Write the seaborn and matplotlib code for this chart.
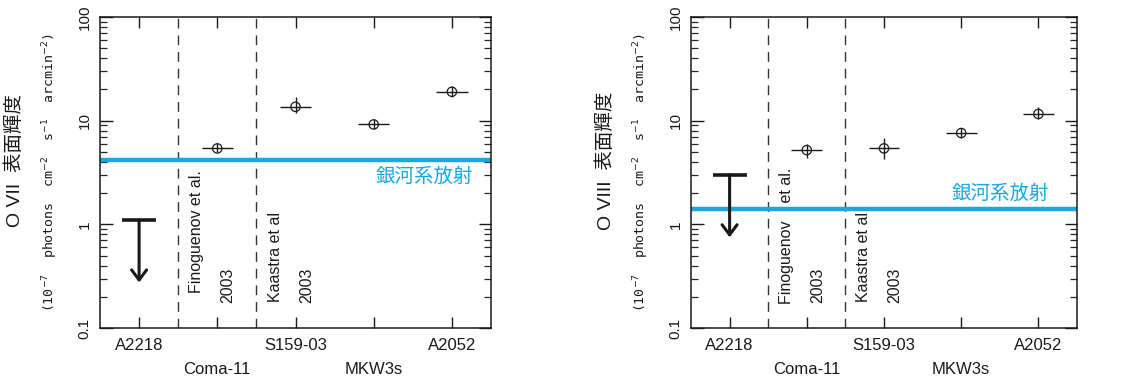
"""Two-panel O VII / O VIII surface brightness chart for five galaxy clusters."""

import matplotlib

matplotlib.use("Agg")
import matplotlib.pyplot as plt
import seaborn as sns
from matplotlib.ticker import FixedLocator, FuncFormatter, LogLocator

CLUSTERS = ["A2218", "Coma-11", "S159-03", "MKW3s", "A2052"]
TICK_LABELS = ["A2218", "\nComa-11", "S159-03", "\nMKW3s", "A2052"]
DETECTED = ["Coma-11", "S159-03", "MKW3s", "A2052"]

# O VII surface brightness (1e-7 photons cm^-2 s^-1 arcmin^-2)
O7_VALUE = [5.4, 13.6, 9.2, 19.0]
O7_LOW = [5.0, 11.9, 8.4, 17.0]
O7_HIGH = [6.1, 16.9, 10.4, 21.6]
O7_UPPER_LIMIT = 1.1     # A2218
O7_GALACTIC = 4.2

# O VIII
O8_VALUE = [5.2, 5.4, 7.6, 11.6]
O8_LOW = [4.4, 4.3, 6.8, 10.4]
O8_HIGH = [5.9, 6.8, 8.5, 13.5]
O8_UPPER_LIMIT = 3.0
O8_GALACTIC = 1.4

BLUE = "#1aa6e2"
INK = "#1a1a1a"

sns.set_theme(style="ticks")
plt.rcParams["font.family"] = ["Liberation Sans", "Noto Sans CJK JP", "DejaVu Sans"]

W, H = 1129, 385


def panel(fig, left_px, width_px, ion, value, low, high, upper, galactic,
          fino_text, fino_bottom, galactic_xy):
    ax = fig.add_axes([left_px / W, 57 / H, width_px / W, 311 / H])
    ax.set_yscale("log")
    ax.set_ylim(0.1, 100)
    ax.set_xlim(-0.5, len(CLUSTERS) - 0.5)

    xs = [CLUSTERS.index(c) for c in DETECTED]
    ax.errorbar(xs, value,
                yerr=[[v - lo for v, lo in zip(value, low)],
                      [hi - v for v, hi in zip(value, high)]],
                xerr=0.2, fmt="none", ecolor=INK, elinewidth=1.0, zorder=3)
    sns.scatterplot(x=xs, y=value, ax=ax, marker="o", s=45,
                    facecolor="none", edgecolor=INK, linewidth=0.9, zorder=4)

    # upper limit for A2218
    x0 = CLUSTERS.index("A2218")
    ax.plot([x0 - 0.22, x0 + 0.22], [upper, upper], color=INK, lw=2.6,
            solid_capstyle="butt", zorder=4)
    ax.annotate("", xy=(x0, upper / 4), xytext=(x0, upper),
                arrowprops=dict(arrowstyle="->,head_length=0.6,head_width=0.45",
                                color=INK, lw=2.2, shrinkA=0, shrinkB=0))

    ax.axhline(galactic, color=BLUE, lw=3.2, zorder=2)
    ax.text(*galactic_xy, "銀河系放射", color=BLUE, fontsize=14,
            ha="right", va="center", family=["Noto Sans CJK JP"])

    for xv in (0.5, 1.5):
        ax.axvline(xv, color="#333333", lw=1.0, linestyle=(0, (7, 5)), zorder=1)

    for x, y, txt in [(0.74, fino_bottom, fino_text), (1.14, 0.175, "2003"),
                      (1.74, 0.18, "Kaastra et al"), (2.14, 0.175, "2003")]:
        ax.text(x, y, txt, rotation=90, ha="center", va="bottom",
                fontsize=11.5, color=INK)

    ax.xaxis.set_major_locator(FixedLocator(range(len(CLUSTERS))))
    ax.set_xticklabels(TICK_LABELS, fontsize=12, color=INK)
    for lab in ax.get_xticklabels():
        lab.set_linespacing(1.75)
    ax.yaxis.set_major_locator(FixedLocator([0.1, 1, 10, 100]))
    ax.yaxis.set_minor_locator(LogLocator(base=10, subs=range(2, 10)))
    ax.yaxis.set_major_formatter(FuncFormatter(lambda v, _: f"{v:g}"))
    ax.tick_params(axis="x", direction="in", length=8, width=1, top=True,
                   pad=7, colors=INK)
    ax.tick_params(axis="y", which="major", direction="in", length=9, width=1,
                   right=True, labelrotation=90, labelsize=11, pad=6, colors=INK)
    ax.tick_params(axis="y", which="minor", direction="in", length=5,
                   width=0.9, right=True)
    for lab in ax.get_yticklabels():
        lab.set_va("center")
    for sp in ax.spines.values():
        sp.set_color(INK)
        sp.set_linewidth(1.1)

    mid = (57 + 311 / 2) / H
    fig.text((left_px - 85) / W, mid + 0.03, f"{ion}  表面輝度", rotation=90,
             ha="center", va="center", fontsize=14, color=INK)
    fig.text((left_px - 50) / W, mid,
             r"(10$^{-7}$  photons  cm$^{-2}$  s$^{-1}$  arcmin$^{-2}$)",
             rotation=90, ha="center", va="center", fontsize=9.5, color=INK,
             family=["DejaVu Sans Mono"])
    return ax


fig = plt.figure(figsize=(W / 100, H / 100), dpi=100)
panel(fig, 100, 391, "O VII", O7_VALUE, O7_LOW, O7_HIGH, O7_UPPER_LIMIT,
      O7_GALACTIC, "Finoguenov et al.", 0.22, (4.27, 2.9))
panel(fig, 691, 386, "O VIII", O8_VALUE, O8_LOW, O8_HIGH, O8_UPPER_LIMIT,
      O8_GALACTIC, "Finoguenov    et al.", 0.17, (4.14, 2.0))
fig.savefig("out.png", dpi=100)
